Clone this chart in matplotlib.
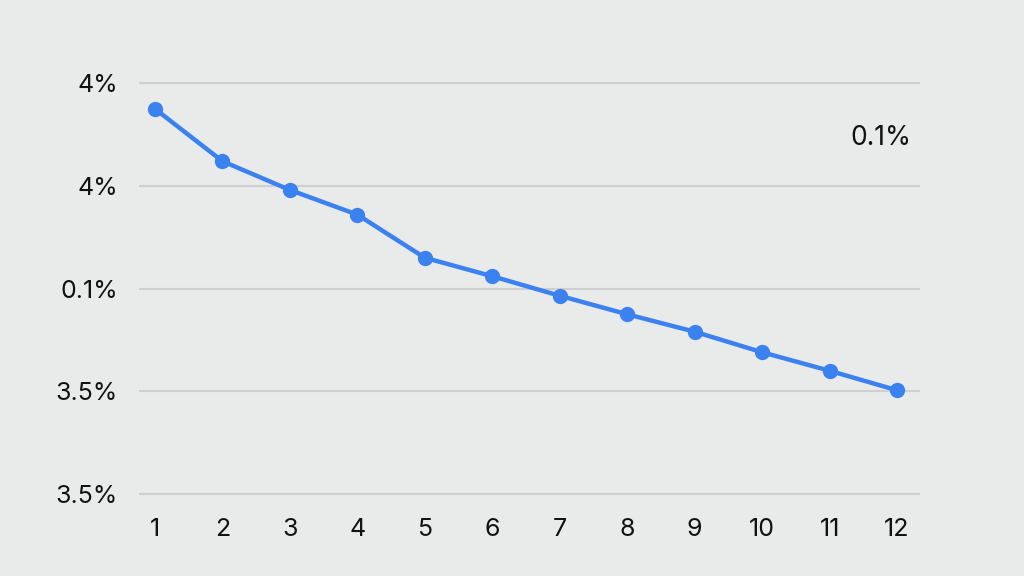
import matplotlib.pyplot as plt

# data (grid units, 0 = bottom gridline, 4 = top)
months = [1, 2, 3, 4, 5, 6, 7, 8, 9, 10, 11, 12]
values = [3.75, 3.24, 2.96, 2.72, 2.30, 2.12, 1.93, 1.75, 1.58, 1.38, 1.20, 1.01]
ytick_pos = [0, 1, 2, 3, 4]
ytick_labels = ["3.5%", "3.5%", "0.1%", "4%", "4%"]
note = "0.1%"

plt.rcParams['font.family'] = ['Inter', 'DejaVu Sans']

bg = '#e9eaea'
fig = plt.figure(figsize=(10.24, 5.76), dpi=100, facecolor=bg)
ax = fig.add_axes([0.1357, 0.1245, 0.7627, 0.749])
ax.set_facecolor(bg)

ax.plot(months, values, color='#3b82f0', lw=3.2, marker='o', ms=10, zorder=3)

ax.set_xlim(0.763, 12.34)
ax.set_ylim(-0.1, 4.1)
ax.set_xticks(months)
ax.set_xticklabels([str(m) for m in months])
ax.set_yticks(ytick_pos)
ax.set_yticklabels(ytick_labels)
ax.tick_params(length=0, labelsize=18, colors='#111111')
ax.tick_params(axis='x', pad=10)
ax.tick_params(axis='y', pad=15)
ax.grid(axis='y', color='#cfcfcf', lw=1.5)
ax.grid(axis='x', visible=False)
for s in ax.spines.values():
    s.set_visible(False)

ax.text(12.22, 3.47, note, ha='right', va='center', fontsize=19, color='#111111')

fig.savefig('out.png', dpi=100, facecolor=bg)
